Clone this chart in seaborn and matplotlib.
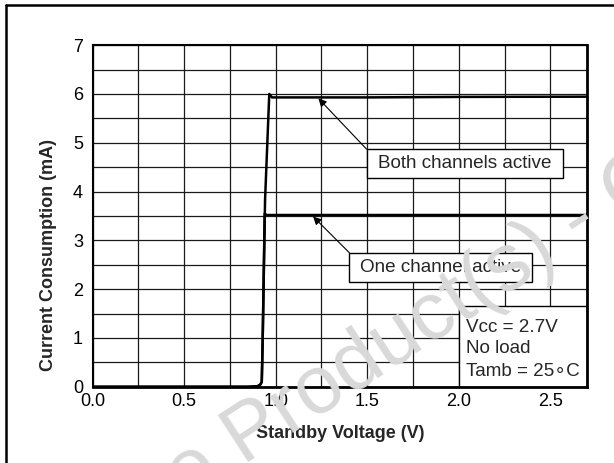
import numpy as np
import pandas as pd
import matplotlib
matplotlib.use("Agg")
import matplotlib.pyplot as plt
from matplotlib.patches import Rectangle
from matplotlib.lines import Line2D
import seaborn as sns

# Supply current versus standby pin voltage
both_v = [0.00, 0.85, 0.90, 0.915, 0.924, 0.929, 0.942, 0.965, 0.98, 1.50, 2.00, 2.70]
both_i = [0.00, 0.00, 0.01, 0.04, 0.10, 0.96, 3.83, 6.00, 5.93, 5.93, 5.94, 5.945]
one_v = [0.00, 0.85, 0.90, 0.915, 0.924, 0.929, 0.940, 0.950, 2.70]
one_i = [0.00, 0.00, 0.01, 0.04, 0.10, 0.96, 3.55, 3.52, 3.52]

x_ticks = [0.0, 0.5, 1.0, 1.5, 2.0, 2.5]
x_tick_labels = ["0.0", "0.5", "1.0", "1.5", "2.0", "2.5"]
y_ticks = [0, 1, 2, 3, 4, 5, 6, 7]
y_tick_labels = ["0", "1", "2", "3", "4", "5", "6", "7"]

label_both = "Both channels active"
label_one = "One channel active"
conditions = ["Vcc = 2.7V", "No load", "Tamb = 25\u2218C"]
watermark = "Obsolete Product(s) - Obsolete Product(s)"

sns.set_style("white")
plt.rcParams["font.family"] = ["Liberation Sans", "DejaVu Sans"]

fig = plt.figure(figsize=(6.14, 4.63), dpi=100)
ax = fig.add_axes([0.1507, 0.1646, 0.8054, 0.7378])

df_both = pd.DataFrame({"v": both_v, "i": both_i})
df_one = pd.DataFrame({"v": one_v, "i": one_i})
sns.lineplot(data=df_both, x="v", y="i", ax=ax, color="black", lw=1.8,
             sort=False, estimator=None, zorder=4)
sns.lineplot(data=df_one, x="v", y="i", ax=ax, color="black", lw=1.8,
             sort=False, estimator=None, zorder=4)

ax.set_xlim(0, 2.7)
ax.set_ylim(0, 7)
ax.set_xticks(x_ticks)
ax.set_xticklabels(x_tick_labels)
ax.set_xticks(np.arange(0.25, 2.7, 0.5), minor=True)
ax.set_yticks(y_ticks)
ax.set_yticklabels(y_tick_labels)
ax.set_yticks(np.arange(0.5, 7, 1.0), minor=True)
ax.grid(which="both", color="#1a1a1a", lw=0.9)
ax.set_axisbelow(True)
ax.tick_params(which="both", length=0, labelsize=13, colors="black")
ax.tick_params(axis="x", pad=4.8)
ax.tick_params(axis="y", pad=6.8)

for side in ["left", "top"]:
    ax.spines[side].set_linewidth(1.5)
for side in ["right", "bottom"]:
    ax.spines[side].set_linewidth(2.0)
for s in ax.spines.values():
    s.set_color("black")
    s.set_zorder(6)

ax.set_xlabel("Standby Voltage (V)", fontsize=13, fontweight="bold")
ax.set_ylabel("Current Consumption (mA)", fontsize=13, fontweight="bold")
ax.xaxis.set_label_coords(0.5, -0.1107)
ax.yaxis.set_label_coords(-0.0724, 0.386)

# Callout boxes with arrows
ax.add_patch(Rectangle((1.497, 4.273), 1.073, 0.594, facecolor="white",
                       edgecolor="black", lw=1.0, zorder=5))
ax.text(2.033, 4.57, label_both, ha="center", va="center", fontsize=13.6, zorder=6)
ax.annotate("", xy=(1.233, 5.91), xytext=(1.497, 4.867),
            arrowprops=dict(arrowstyle="-|>", color="black", lw=0.8,
                            mutation_scale=12, shrinkA=0, shrinkB=0), zorder=6)

ax.add_patch(Rectangle((1.402, 2.141), 0.999, 0.607, facecolor="white",
                       edgecolor="black", lw=1.0, zorder=5))
ax.text(1.90, 2.445, label_one, ha="center", va="center", fontsize=13.6, zorder=6)
ax.annotate("", xy=(1.204, 3.49), xytext=(1.402, 2.748),
            arrowprops=dict(arrowstyle="-|>", color="black", lw=0.8,
                            mutation_scale=12, shrinkA=0, shrinkB=0), zorder=6)

# Test conditions
ax.add_patch(Rectangle((2.0, 0.0), 0.7, 1.655, facecolor="white",
                       edgecolor="black", lw=1.0, zorder=5))
for txt, yb in zip(conditions, [1.129, 0.686, 0.221]):
    ax.text(2.04, yb, txt, ha="left", va="baseline", fontsize=13.6, zorder=6)

# Page frame
fig.add_artist(Line2D([6 / 614, 6 / 614], [1 - 5 / 463, -0.05], color="black",
                      lw=1.8, transform=fig.transFigure))
fig.add_artist(Line2D([6 / 614, 1.05], [1 - 5 / 463, 1 - 5 / 463], color="black",
                      lw=1.8, transform=fig.transFigure))

# Watermark
fig.text(-0.0839, -0.4175, watermark, rotation=33, rotation_mode="anchor",
         ha="left", va="baseline", fontsize=59, color="#d9d9d9", zorder=10)

fig.savefig("out.png", dpi=100)
